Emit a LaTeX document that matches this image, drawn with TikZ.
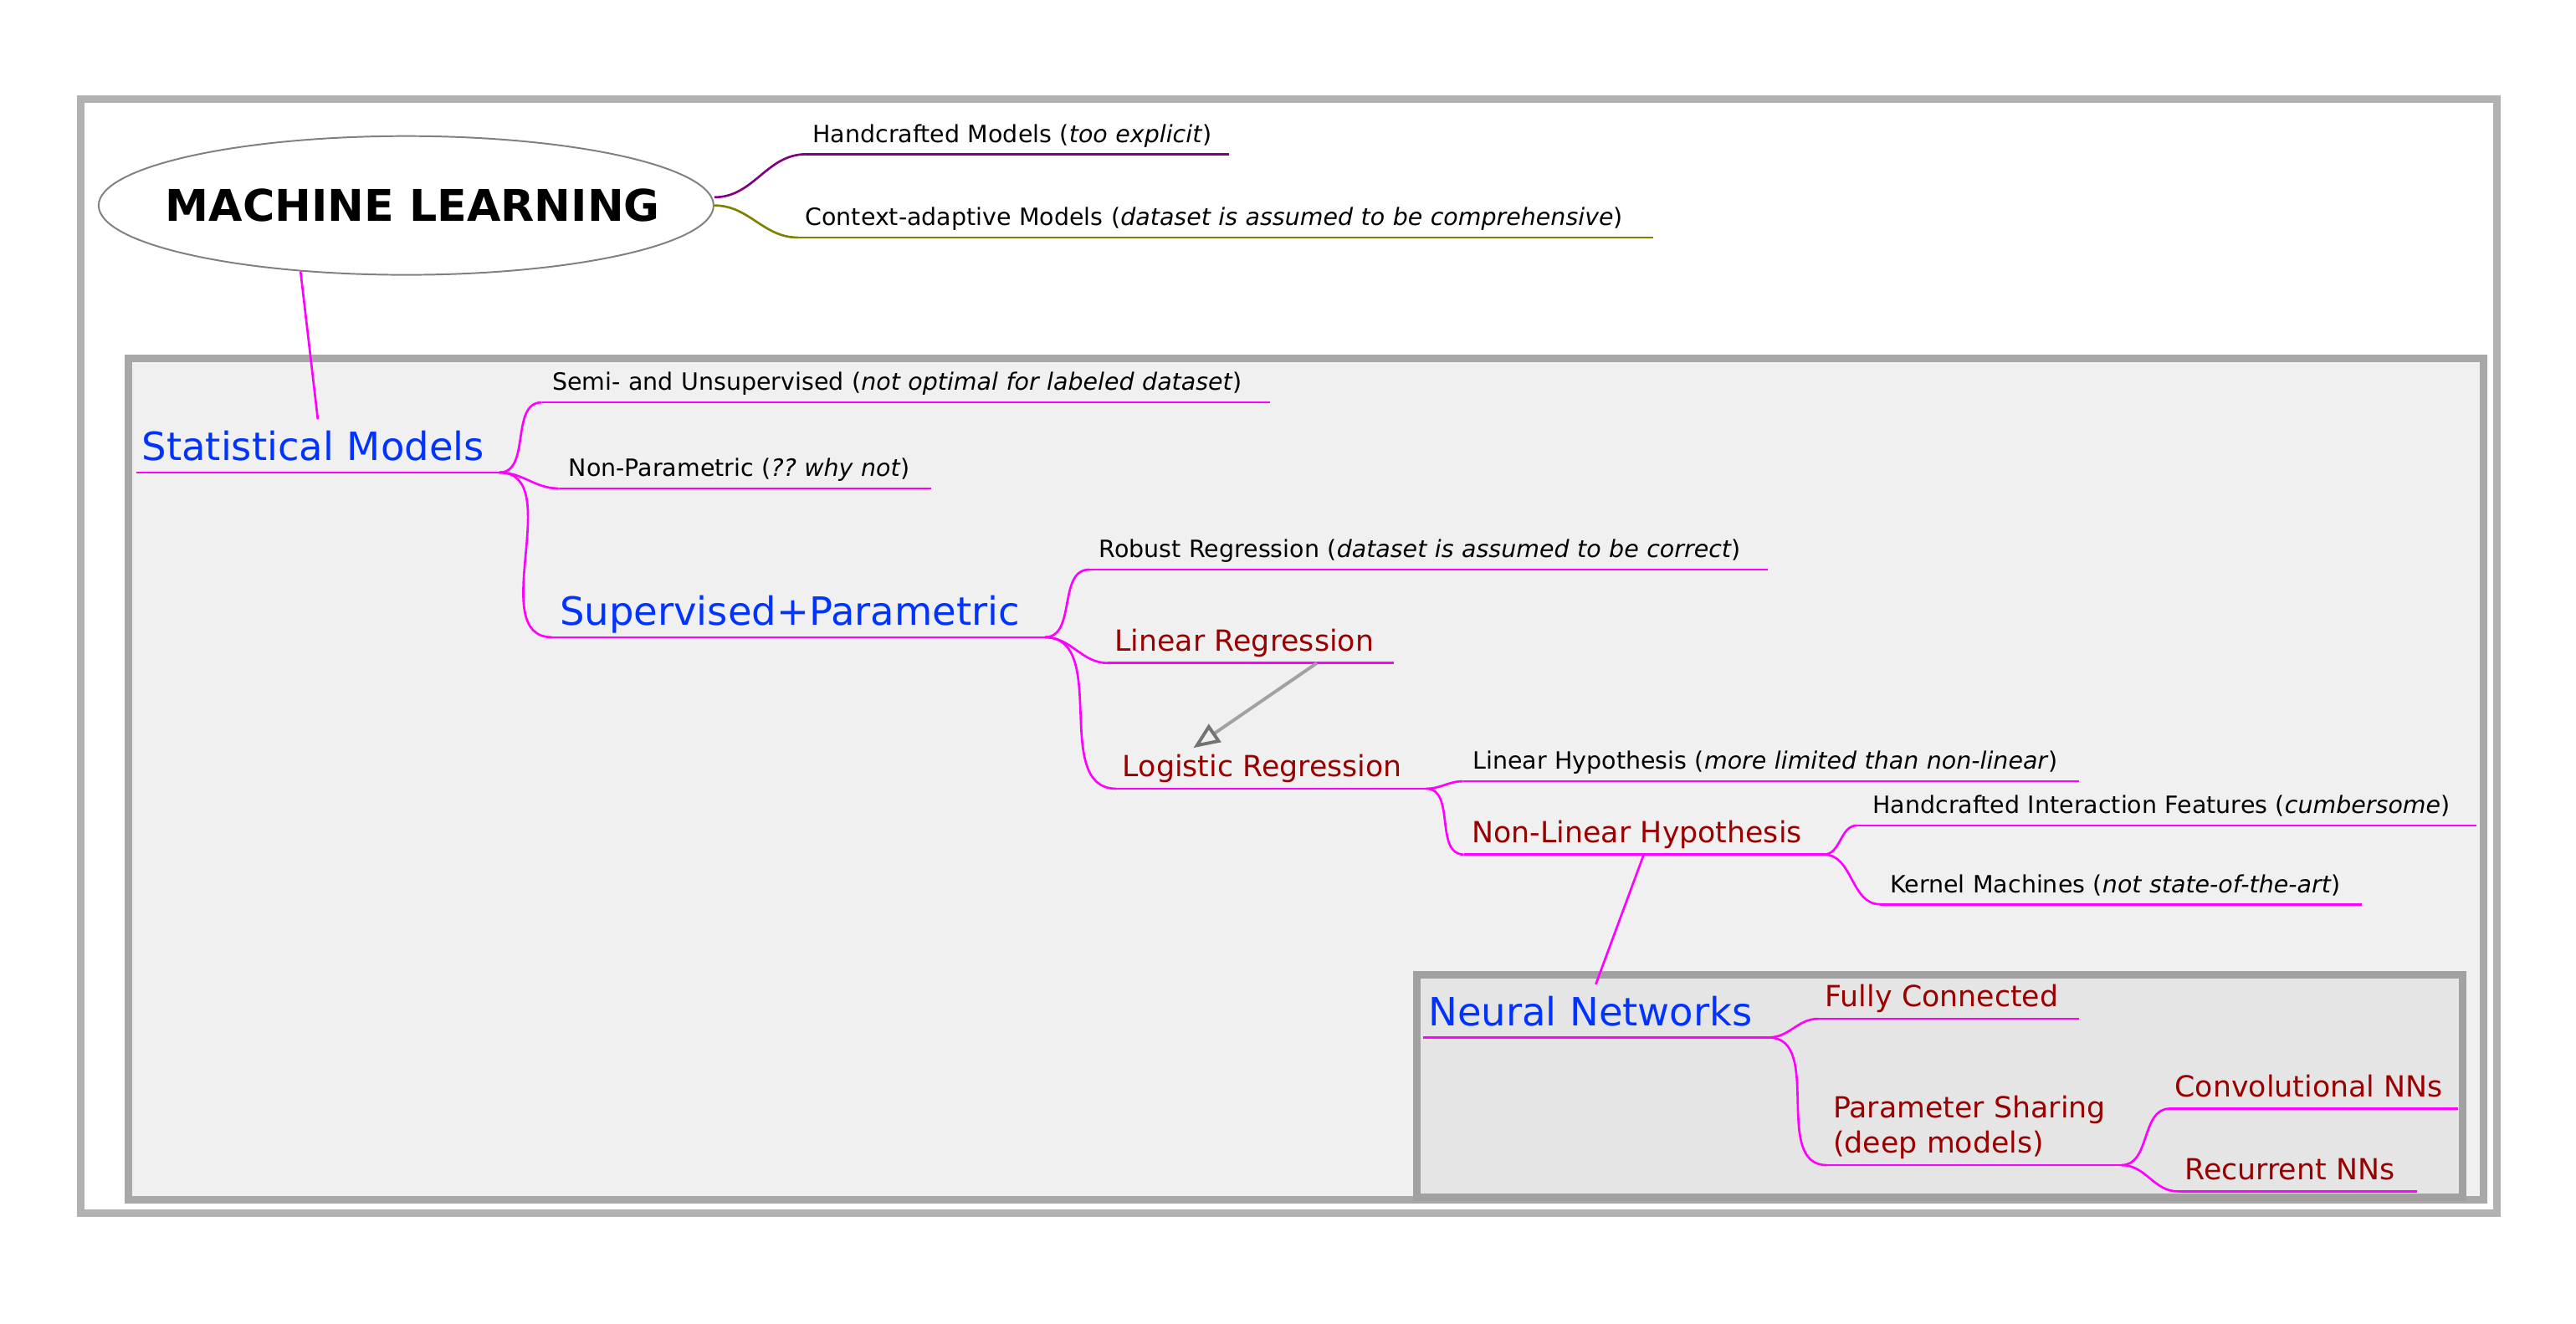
\documentclass[tikz,border=0pt]{standalone}
\usepackage{fontspec}
\setmainfont{DejaVu Sans}
\usetikzlibrary{shapes.geometric, arrows.meta}
\definecolor{mmblue}{HTML}{0033FF}
\definecolor{mmred}{HTML}{990000}
\definecolor{mmpink}{HTML}{FF00FF}
\definecolor{mmpurple}{HTML}{800080}
\definecolor{mmolive}{HTML}{808000}
\frenchspacing

\begin{document}
\begin{tikzpicture}[x=1pt, y=-1pt,
        leaf/.style={anchor=south west, inner ysep=7pt, text depth=0pt, align=left},
        smalltext/.style={leaf, font=\fontsize{14.5}{17.4}\selectfont},
        redtext/.style={leaf, text=mmred, font=\fontsize{17.7}{21.4}\selectfont},
        bluetext/.style={leaf, text=mmblue, font=\fontsize{23.7}{28}\selectfont},
        branch/.style={mmpink, line width=1.35pt},
        cloudbox/.style={line width=4.7pt}]
        \useasboundingbox (0,0) rectangle (1568,805.7);
        % clouds
        \draw[cloudbox, draw=black!30, fill=white] (49.1,60.3) rectangle (1519.7,738.7);
        \draw[cloudbox, draw=black!34, fill=black!6] (78.2,218.2) rectangle (1511.9,730.5);
        \draw[cloudbox, draw=black!37, fill=black!10] (862.5,593.6) rectangle (1499.1,728.9);
        % root
        \node[ellipse, draw=black!50, line width=1pt, inner xsep=-26pt, inner ysep=0pt, minimum width=374.3pt, minimum height=84.5pt,
              font=\bfseries\fontsize{26.6}{30}\selectfont] (ml) at (247.2,125.1) {\hspace*{8pt}MACHINE LEARNING};
        \node[smalltext, inner xsep=3.9pt, text width=249.2pt] (hand) at (490.6,93.9) {Handcrafted Models (\emph{too explicit})};
        \node[smalltext, inner xsep=4.3pt, text width=511.5pt] (ctx) at (485.7,144.6) {Context-adaptive Models (\emph{dataset is assumed to be comprehensive})};
        % statistical models
        \node[bluetext, inner xsep=3.1pt, text width=214.3pt] (statm) at (83,287.7) {Statistical Models};
        \node[smalltext, inner xsep=6.3pt, text width=430.4pt] (semi) at (329.8,245) {Semi- and Unsupervised (\emph{not optimal for labeled dataset})};
        \node[smalltext, inner xsep=6pt, text width=214.3pt] (nonp) at (340,297.4) {Non-Parametric (\emph{?? why not})};
        \node[bluetext, inner xsep=4.5pt, text width=290.6pt] (supp) at (336,388) {Supervised+Parametric};
        \node[smalltext, inner xsep=5.9pt, text width=400.8pt] (robust) at (663,346.8) {Robust Regression (\emph{dataset is assumed to be correct})};
        \node[redtext, inner xsep=4pt, text width=165.9pt] (linreg) at (674.3,403.7) {Linear Regression};
        \node[redtext, inner xsep=3.8pt, text width=180.7pt] (logreg) at (679.4,480.2) {Logistic Regression};
        \node[smalltext, inner xsep=5.8pt, text width=362.9pt] (linhyp) at (890.5,475.7) {Linear Hypothesis (\emph{more limited than non-linear})};
        \node[redtext, inner xsep=4.8pt, text width=209.1pt] (nonlin) at (891,520.3) {Non-Linear Hypothesis};
        \node[smalltext, inner xsep=9.3pt, text width=358.1pt] (hif) at (1130.4,502.6) {Handcrafted Interaction Features (\emph{cumbersome})};
        \node[smalltext, inner xsep=6.1pt, text width=280.5pt] (kernel) at (1144.3,550.6) {Kernel Machines (\emph{not state-of-the-art})};
        % neural networks
        \node[bluetext, inner xsep=3.1pt, text width=203.9pt] (neural) at (866.1,631.7) {Neural Networks};
        \node[redtext, inner xsep=4pt, text width=150.4pt] (fully) at (1106.8,620.3) {Fully Connected};
        \node[redtext, inner xsep=3.7pt, text width=171.7pt, text depth=21.4pt] (params) at (1111.9,709.4) {Parameter Sharing\\(deep models)};
        \node[redtext, inner xsep=3pt, text width=169.2pt] (conv) at (1320.7,675) {Convolutional NNs};
        \node[redtext, inner xsep=4pt, text width=136.9pt] (rec) at (1325.7,725.4) {Recurrent NNs};
        % underlines
        \draw[mmpurple, line width=1.35pt] (hand.south west) -- (hand.south east);
        \draw[mmolive, line width=1.35pt] (ctx.south west) -- (ctx.south east);
        \foreach \n in {statm,semi,nonp,supp,robust,linreg,logreg,linhyp,nonlin,hif,kernel,neural,fully,params,conv,rec}
            \draw[branch] (\n.south west) -- (\n.south east);
        % edges
        \draw[mmpurple, line width=1.35pt] ([yshift=5pt]ml.east) to[out=0, in=180] (hand.south west);
        \draw[mmolive, line width=1.35pt] (ml.east) to[out=0, in=180] (ctx.south west);
        \foreach \a/\b in {statm/semi, statm/nonp, statm/supp, supp/robust, supp/linreg, supp/logreg,
                logreg/linhyp, logreg/nonlin, nonlin/hif, nonlin/kernel, neural/fully, neural/params,
                params/conv, params/rec}
            \draw[branch] (\a.south east) to[out=0, in=180] (\b.south west);
        \draw[branch] (ml.-148) -- (statm.north);
        \draw[branch] (nonlin.south) -- (neural.north);
        % link
        \draw[black!37, line width=2pt, -{Triangle[open, length=16pt, width=13pt, color=black!55]}]
            ([xshift=-47pt]linreg.south east) -- ([xshift=47pt, yshift=-3pt]logreg.north west);
\end{tikzpicture}
\end{document}
